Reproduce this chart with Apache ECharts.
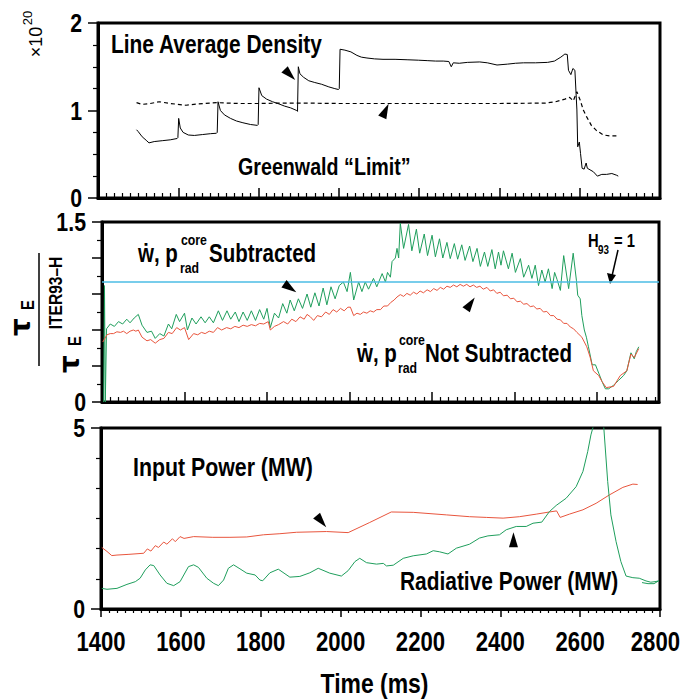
<!DOCTYPE html>
<html><head><meta charset="utf-8">
<script src="https://cdn.jsdelivr.net/npm/echarts@6/dist/echarts.min.js"></script>
<style>html,body{margin:0;padding:0;background:#fff}#c{width:682px;height:700px}</style>
</head><body><div id="c"></div>
<script>
// ---------- tick labels ----------
const timeTicks = [1400, 1600, 1800, 2000, 2200, 2400, 2600, 2800];
const densityTicks = [0, 1, 2];
const ratioTicks = [0, 1.5];
const powerTicks = [0, 5];

// ---------- panel 1: density (x10^20) ----------
const lineAvgDensity = [
 [1496,0.78],[1500,0.76],[1510,0.70],[1520,0.66],[1527,0.63],[1540,0.645],[1560,0.655],[1580,0.665],[1597,0.68],[1599,0.69],
 [1601,0.91],[1605,0.80],[1612,0.75],[1625,0.72],[1640,0.715],[1660,0.725],[1680,0.735],[1695,0.74],[1697,0.75],
 [1699,1.10],[1705,1.00],[1715,0.95],[1730,0.91],[1745,0.88],[1761,0.86],[1780,0.84],[1797,0.83],[1799,0.84],
 [1801,1.26],[1808,1.17],[1820,1.13],[1835,1.10],[1848,1.08],[1865,1.05],[1880,1.03],[1895,1.00],[1897,0.99],
 [1899,1.50],[1903,1.42],[1912,1.38],[1925,1.34],[1940,1.32],[1957,1.30],[1975,1.27],[1990,1.25],[1999,1.24],[2001,1.25],
 [2003,1.70],[2015,1.69],[2030,1.67],[2045,1.63],[2056,1.61],[2070,1.60],[2089,1.59],[2110,1.585],[2140,1.585],[2170,1.58],
 [2198,1.575],[2220,1.57],[2241,1.565],[2260,1.565],[2274,1.56],[2280,1.50],[2285,1.545],[2300,1.54],[2320,1.55],[2351,1.555],
 [2370,1.545],[2394,1.52],[2420,1.53],[2440,1.54],[2460,1.545],[2490,1.545],[2520,1.55],[2537,1.565],[2553,1.61],[2563,1.645],
 [2569,1.64],[2572,1.46],[2578,1.41],[2583,1.48],[2588,1.46],[2593,1.006],[2595,0.585],[2599,0.64],[2602,0.51],[2606,0.34],
 [2611,0.33],[2616,0.40],[2619,0.34],[2634,0.30],[2644,0.25],[2655,0.27],[2667,0.27],[2680,0.28],[2692,0.26],[2696,0.25]
];
const greenwaldLimit = [
 [1496,1.09],[1510,1.07],[1530,1.08],[1553,1.10],[1580,1.08],[1619,1.06],[1650,1.075],[1695,1.09],[1750,1.08],[1804,1.08],
 [1860,1.085],[1914,1.085],[2000,1.08],[2132,1.08],[2250,1.08],[2400,1.08],[2515,1.085],[2540,1.10],[2563,1.13],[2575,1.15],
 [2584,1.11],[2593,1.215],[2601,1.12],[2609,1.006],[2617,0.93],[2629,0.83],[2642,0.77],[2659,0.72],[2675,0.71],[2696,0.71]
];

// ---------- panel 2: tau_E / tau_E^ITER93-H ----------
const tauSubtracted = [
 [1404,0],[1406,0.97],[1408,0],[1411,0.61],[1420,0.65],[1430,0.63],[1440,0.67],[1450,0.65],[1460,0.69],[1468,0.66],[1478,0.70],
 [1488,0.73],[1497,0.64],[1509,0.58],[1520,0.59],[1529,0.53],[1540,0.57],[1550,0.55],[1561,0.65],[1569,0.61],[1580,0.73],
 [1588,0.67],[1600,0.74],[1607,0.60],[1618,0.70],[1628,0.65],[1640,0.71],[1650,0.66],[1660,0.71],[1670,0.66],[1682,0.76],
 [1692,0.68],[1703,0.76],[1712,0.69],[1723,0.75],[1732,0.67],[1742,0.75],[1752,0.68],[1762,0.76],[1772,0.68],[1782,0.77],
 [1792,0.69],[1800,0.78],[1808,0.62],[1818,0.74],[1828,0.70],[1838,0.82],[1848,0.74],[1856,0.85],[1866,0.76],[1876,0.86],
 [1886,0.78],[1897,0.90],[1906,0.79],[1916,0.91],[1926,0.80],[1936,0.95],[1945,0.81],[1955,0.96],[1965,0.86],[1975,0.97],
 [1985,1.00],[1994,0.92],[2002,1.08],[2010,0.85],[2022,1.00],[2030,0.92],[2038,1.00],[2046,0.94],[2058,1.03],[2066,0.96],
 [2079,1.07],[2087,1.00],[2092,1.08],[2099,1.04],[2103,1.17],[2111,1.20],[2115,1.28],[2119,1.20],[2123,1.49],[2131,1.28],
 [2143,1.48],[2151,1.26],[2162,1.44],[2170,1.24],[2181,1.40],[2189,1.22],[2200,1.39],[2208,1.21],[2218,1.36],[2226,1.20],
 [2236,1.33],[2244,1.195],[2254,1.32],[2262,1.19],[2272,1.31],[2280,1.18],[2291,1.30],[2299,1.17],[2309,1.28],[2317,1.13],
 [2327,1.25],[2335,1.13],[2345,1.27],[2353,1.11],[2361,1.25],[2367,1.14],[2373,1.26],[2385,1.11],[2394,1.24],[2402,1.08],
 [2414,1.195],[2422,1.04],[2434,1.14],[2442,1.03],[2450,1.14],[2458,0.97],[2466,1.10],[2474,1.00],[2482,1.11],[2491,0.945],
 [2497,1.08],[2503,1.02],[2511,0.93],[2519,1.22],[2531,0.945],[2542,1.24],[2550,1.01],[2553,0.89],[2559,0.86],[2563,0.72],
 [2569,0.60],[2574,0.54],[2579,0.46],[2588,0.31],[2596,0.31],[2604,0.24],[2612,0.17],[2620,0.11],[2628,0.11],[2640,0.14],
 [2652,0.18],[2664,0.22],[2672,0.26],[2682,0.41],[2690,0.36],[2695,0.42],[2701,0.46]
];
const tauNotSubtracted = [
 [1402,0.50],[1412,0.56],[1420,0.57],[1428,0.57],[1436,0.585],[1445,0.58],[1452,0.59],[1460,0.57],[1468,0.59],[1476,0.60],
 [1482,0.59],[1488,0.60],[1497,0.54],[1509,0.51],[1518,0.52],[1529,0.49],[1540,0.52],[1550,0.53],[1561,0.58],[1570,0.57],
 [1581,0.62],[1590,0.60],[1600,0.62],[1610,0.52],[1622,0.57],[1632,0.56],[1641,0.58],[1650,0.57],[1660,0.59],[1670,0.58],
 [1680,0.62],[1690,0.60],[1702,0.62],[1712,0.61],[1722,0.63],[1732,0.62],[1742,0.64],[1752,0.63],[1762,0.645],[1772,0.635],
 [1782,0.655],[1792,0.65],[1803,0.67],[1808,0.60],[1818,0.63],[1828,0.645],[1840,0.67],[1850,0.65],[1860,0.69],[1870,0.67],
 [1880,0.71],[1890,0.69],[1897,0.73],[1905,0.71],[1913,0.68],[1922,0.72],[1932,0.71],[1942,0.75],[1951,0.73],[1960,0.77],
 [1969,0.75],[1978,0.78],[1987,0.76],[1996,0.79],[2002,0.79],[2010,0.72],[2018,0.74],[2026,0.73],[2034,0.75],[2042,0.74],
 [2050,0.76],[2058,0.75],[2066,0.77],[2075,0.77],[2083,0.80],[2092,0.80],[2100,0.83],[2108,0.85],[2115,0.875],[2123,0.895],
 [2131,0.88],[2139,0.905],[2147,0.89],[2155,0.915],[2163,0.90],[2171,0.925],[2179,0.91],[2188,0.935],[2196,0.92],[2204,0.945],
 [2212,0.93],[2220,0.955],[2228,0.94],[2236,0.965],[2244,0.955],[2252,0.975],[2260,0.96],[2268,0.98],[2276,0.965],[2284,0.98],
 [2292,0.96],[2300,0.975],[2308,0.955],[2316,0.965],[2324,0.94],[2333,0.955],[2341,0.925],[2349,0.935],[2357,0.905],[2365,0.915],
 [2373,0.885],[2382,0.89],[2390,0.86],[2398,0.865],[2406,0.835],[2414,0.84],[2422,0.815],[2430,0.82],[2438,0.795],[2446,0.80],
 [2454,0.775],[2462,0.78],[2470,0.75],[2478,0.755],[2487,0.72],[2495,0.72],[2503,0.69],[2511,0.685],[2519,0.655],[2527,0.655],
 [2535,0.625],[2543,0.61],[2551,0.58],[2563,0.54],[2575,0.46],[2583,0.375],[2591,0.26],[2604,0.22],[2612,0.17],[2622,0.12],
 [2640,0.13],[2656,0.22],[2672,0.26],[2682,0.40],[2690,0.37],[2701,0.445]
];
const h93Line = [[1400,1],[2750,1]];

// ---------- panel 3: power (MW) ----------
const inputPower = [
 [1402,1.70],[1415,1.59],[1427,1.475],[1440,1.49],[1470,1.51],[1507,1.54],[1516,1.66],[1525,1.60],[1536,1.75],[1544,1.70],
 [1557,1.85],[1565,1.79],[1579,1.94],[1586,1.86],[1598,2.00],[1608,1.95],[1632,2.00],[1680,1.98],[1723,1.98],[1765,1.99],
 [1807,2.05],[1848,2.08],[1890,2.12],[1965,2.14],[2019,2.11],[2073,2.39],[2127,2.68],[2182,2.67],[2265,2.60],[2323,2.55],
 [2365,2.53],[2407,2.51],[2448,2.55],[2490,2.62],[2523,2.68],[2541,2.71],[2550,2.53],[2573,2.62],[2607,2.74],[2640,2.92],
 [2673,3.15],[2707,3.36],[2732,3.45],[2744,3.44]
];
const radiativePower = [
 [1402,0.57],[1415,0.545],[1440,0.57],[1465,0.68],[1486,0.755],[1498,0.85],[1511,1.08],[1523,1.22],[1532,1.20],[1548,0.94],
 [1565,0.71],[1582,0.645],[1598,0.755],[1619,1.17],[1632,1.22],[1644,1.15],[1665,0.85],[1682,0.71],[1694,0.645],[1707,0.80],
 [1719,1.125],[1732,1.22],[1748,1.11],[1765,0.99],[1786,0.94],[1798,0.80],[1805,0.78],[1823,1.00],[1844,1.10],[1873,0.88],
 [1898,0.90],[1923,1.00],[1944,1.125],[1973,0.99],[2002,0.91],[2019,1.06],[2036,1.31],[2048,1.40],[2065,1.28],[2090,1.24],
 [2107,1.26],[2115,1.19],[2132,1.21],[2157,1.40],[2182,1.47],[2215,1.52],[2232,1.61],[2248,1.58],[2269,1.52],[2290,1.68],
 [2323,1.79],[2348,1.96],[2369,2.02],[2398,2.05],[2415,2.19],[2440,2.28],[2465,2.28],[2482,2.37],[2504,2.40],[2523,2.69],
 [2540,2.86],[2565,3.06],[2590,3.38],[2607,3.80],[2619,4.35],[2627,4.81],[2633,5.05],[2645,5.6],[2655,5.6],[2659,5.05],
 [2669,3.52],[2677,2.60],[2690,1.86],[2702,1.31],[2715,0.91],[2732,0.865],[2748,0.85],[2765,0.775],[2777,0.74],[2790,0.76],
 [2797,0.78],[2785,0.70],[2770,0.70],[2755,0.73]
];

// ---------- arrowhead annotations (data coords, rotation deg) ----------
const densityArrows = [[1878,1.41,-135],[2116,1.0,-25]];
const ratioArrows = [[1856,0.95,-125],[2293,0.82,-35]];
const powerArrows = [[1952,2.42,-140],[2433,1.91,0]];

// ---------- fonts ----------
function fontAvailable(name){
  const c = document.createElement('canvas').getContext('2d');
  const s = 'Input Power (MW) 1400';
  c.font = 'bold 40px monospace'; const w0 = c.measureText(s).width;
  c.font = "bold 40px '" + name + "', monospace"; const w1 = c.measureText(s).width;
  return Math.abs(w0 - w1) > 0.5;
}
const HAS_NARROW = fontAvailable('Liberation Sans Narrow');
const NF = HAS_NARROW ? "'Liberation Sans Narrow',sans-serif" : "'Liberation Sans',Arial,sans-serif";
const SX = HAS_NARROW ? 1 : 0.82;
const GREEN = '#1f9e5c', RED = '#e8553d', CYAN = '#4bbde4';

function textWidth(text, size){
  const c = document.createElement('canvas').getContext('2d');
  c.font = 'bold ' + size + 'px ' + NF;
  return c.measureText(text).width * SX;
}
function xAxis(gi, max, inside){
  return {type:'value', gridIndex:gi, min:1400, max:max, interval:200,
    axisLine:{show:true, onZero:false, lineStyle:{color:'#000', width:3}},
    axisTick:{show:true, inside:inside, length: inside?10:8, lineStyle:{color:'#000', width:1.5}},
    minorTick:{show:true, splitNumber:10, length: inside?5:4, lineStyle:{color:'#000', width:1.2}},
    splitLine:{show:false}, minorSplitLine:{show:false}, axisLabel:{show:false}};
}
function yAxis(gi, max, interval, minorSplit){
  return {type:'value', gridIndex:gi, min:0, max:max, interval:interval,
    axisLine:{show:true, onZero:false, lineStyle:{color:'#000', width:3}},
    axisTick:{show:true, inside:false, length:10, lineStyle:{color:'#000', width:1.5}},
    minorTick:{show:true, splitNumber:minorSplit, length:5, lineStyle:{color:'#000', width:1.2}},
    splitLine:{show:false}, minorSplitLine:{show:false}, axisLabel:{show:false}};
}
function arrows(list){
  return {symbol:'triangle', silent:true, animation:false, label:{show:false},
    data: list.map(a => ({coord:[a[0], a[1]], symbolSize:[9,15], symbolRotate:a[2], itemStyle:{color:'#000'}}))};
}
function line(name, data, xi, color, width, extra){
  return Object.assign({type:'line', name:name, data:data, xAxisIndex:xi, yAxisIndex:xi, showSymbol:false, symbol:'none',
    silent:true, clip:true, animation:false, lineStyle:{color:color, width:width}}, extra||{});
}
function txt(x, y, text, size, opts){
  opts = opts || {};
  const fam = opts.family || NF;
  const sx = opts.family ? 1 : SX;
  return {type:'text', x:x, y:y, rotation: opts.rot || 0, scaleX: sx, silent:true, z:100,
    style:{text:text, fill:'#000', font:(opts.weight||'bold')+' '+size+'px '+fam,
      align:opts.align||'left', verticalAlign:'middle', textAlign:opts.align||'left', textVerticalAlign:'middle'}};
}

const chart = echarts.init(document.getElementById('c'), null, {renderer:'svg'});
chart.setOption({
  animation:false,
  backgroundColor:'#fff',
  grid:[
    {left:98, top:23, width:562, height:175, show:true, borderColor:'#000', borderWidth:3},
    {left:102, top:222, width:557, height:180, show:true, borderColor:'#000', borderWidth:3},
    {left:101, top:428, width:559, height:181, show:true, borderColor:'#000', borderWidth:3}
  ],
  xAxis:[ xAxis(0, 2800, true), xAxis(1, 2750, true), xAxis(2, 2800, false) ],
  yAxis:[ yAxis(0, 2, 1, 4), yAxis(1, 1.5, 0.3, 2), yAxis(2, 5, 5, 6) ],
  series:[
    line('Line Average Density', lineAvgDensity, 0, '#000', 1, {markPoint: arrows(densityArrows)}),
    line('Greenwald Limit', greenwaldLimit, 0, '#000', 1.2, {lineStyle:{color:'#000', width:1.2, type:[4,3]}}),
    line('tau subtracted', tauSubtracted, 1, GREEN, 1, {markPoint: arrows(ratioArrows)}),
    line('tau not subtracted', tauNotSubtracted, 1, RED, 1),
    line('H93 = 1', h93Line, 1, CYAN, 1.5),
    line('Input Power', inputPower, 2, RED, 1, {markPoint: arrows(powerArrows)}),
    line('Radiative Power', radiativePower, 2, GREEN, 1)
  ]
});

// tick labels placed through the axes' own scales
const g = [];
const W = 682;
const yTickSets = [densityTicks, ratioTicks, powerTicks];
yTickSets.forEach((ticks, gi) => {
  ticks.forEach(v => {
    const p = chart.convertToPixel({gridIndex:gi}, [1400, v]);
    g.push(txt(p[0] - 16, p[1], String(v), 26, {align:'right'}));
  });
});
timeTicks.forEach(t => {
  const p = chart.convertToPixel({gridIndex:2}, [t, 0]);
  const half = textWidth(String(t), 27) / 2;
  const cx = Math.min(p[0], W - half - 2);
  g.push(txt(cx, p[1] + 33, String(t), 27, {align:'center'}));
});
const mid = chart.convertToPixel({gridIndex:2}, [2085, 0]);
g.push(txt(mid[0], mid[1] + 74, 'Time (ms)', 28, {align:'center'}));

g.push(
  txt(111, 44, 'Line Average Density', 25.5),
  txt(238, 167, 'Greenwald \u201cLimit\u201d', 24),
  // x10^20
  txt(36, 42, '\u00d710', 18, {rot:Math.PI/2, align:'center', weight:'normal', family:"'Liberation Sans',Arial,sans-serif"}),
  txt(27, 18, '20', 13, {rot:Math.PI/2, align:'center', weight:'normal', family:"'Liberation Sans',Arial,sans-serif"}),
  // tau ratio axis title
  txt(20, 327, '\u03c4', 28, {rot:Math.PI/2, align:'center', family:"'DejaVu Sans',sans-serif"}),
  txt(27, 305, 'E', 18, {rot:Math.PI/2, align:'center'}),
  {type:'line', silent:true, shape:{x1:39, y1:253, x2:39, y2:366}, style:{stroke:'#000', lineWidth:1.5}},
  txt(69, 364, '\u03c4', 28, {rot:Math.PI/2, align:'center', family:"'DejaVu Sans',sans-serif"}),
  txt(74, 341, 'E', 18, {rot:Math.PI/2, align:'center'}),
  txt(55, 293, 'ITER93\u2013H', 19, {rot:Math.PI/2, align:'center'}),
  // panel 2 labels
  txt(138, 253, '\u1e87, p', 25),
  txt(181, 240, 'core', 15),
  txt(180, 268, 'rad', 15),
  txt(209, 253, 'Subtracted', 25),
  txt(357, 353, '\u1e87, p', 25),
  txt(399, 340, 'core', 15),
  txt(398, 368, 'rad', 15),
  txt(425, 353, 'Not Subtracted', 25),
  txt(588, 240, 'H', 18),
  txt(598, 250, '93', 12),
  txt(614, 240, '= 1', 18),
  {type:'line', silent:true, shape:{x1:618, y1:250, x2:612, y2:276}, style:{stroke:'#000', lineWidth:1.5}},
  {type:'polygon', silent:true, shape:{points:[[607,273],[616,275],[610,284]]}, style:{fill:'#000'}},
  // panel 3 labels
  txt(133, 467, 'Input Power (MW)', 26),
  txt(400, 581, 'Radiative Power (MW)', 25.5)
);
chart.setOption({graphic: g});
</script></body></html>
